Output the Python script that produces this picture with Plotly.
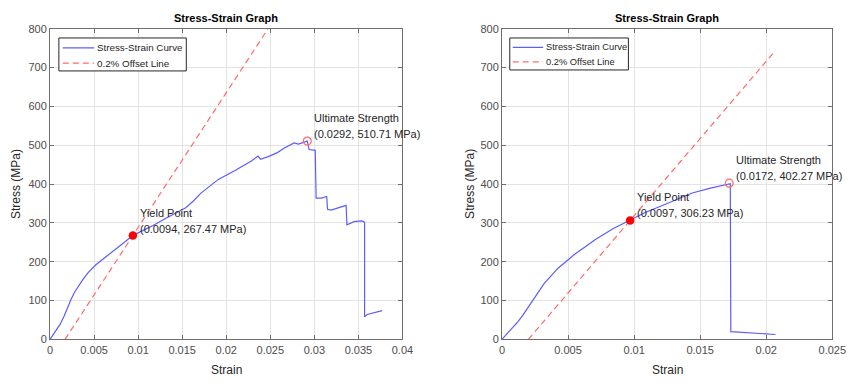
import plotly.graph_objects as go

# ---------------- data ----------------
# Left specimen
strain_a = [0, 0.0005, 0.00115, 0.0016, 0.0019, 0.0024, 0.0028, 0.0032, 0.0037, 0.0043, 0.0048,
            0.0052, 0.0062, 0.0071, 0.0082, 0.0094, 0.0105, 0.0117, 0.013, 0.0143, 0.0154, 0.0163,
            0.0171, 0.0181, 0.0191, 0.021, 0.0229, 0.0236, 0.0239, 0.0249, 0.0258, 0.0266, 0.0273,
            0.0277, 0.0282, 0.0286, 0.0291, 0.0292, 0.0294, 0.0299, 0.0301, 0.0302, 0.0308, 0.0314,
            0.0315, 0.0319, 0.0336, 0.0337, 0.0345, 0.0354, 0.0357, 0.0357, 0.036, 0.0377]
stress_a = [0, 18, 39, 60, 77, 104, 122, 137, 153, 171, 183,
            192, 210, 226, 246, 267.47, 280, 293, 310, 326, 339, 357,
            376, 394, 412, 435, 460, 472, 464, 472, 481, 493, 502,
            506, 503, 506, 509, 510.71, 489, 487, 487, 364, 364, 368,
            335, 333, 345, 295, 303, 305, 302, 58, 64, 74]
offset_x_a = [0.0017, 0.0377]
offset_y_a = [0, 1250]
yield_a = (0.0094, 267.47)
ult_a = (0.0292, 510.71)

# Right specimen
strain_b = [0, 0.0004, 0.0008, 0.0012, 0.0016, 0.002, 0.0024, 0.0028, 0.0032, 0.0037, 0.0042,
            0.0049, 0.0055, 0.0062, 0.0071, 0.0084, 0.0097, 0.0108, 0.012, 0.0132, 0.0144,
            0.0157, 0.0165, 0.0172, 0.01728, 0.01732, 0.0207]
stress_b = [0, 15, 30, 45, 63, 83, 105, 126, 144, 163, 182,
            202, 219, 236, 258, 285, 306.23, 326, 343, 360, 377,
            389, 396, 402.27, 401, 20, 12.5]
offset_x_b = [0.002, 0.0207]
offset_y_b = [0, 744]
yield_b = (0.0097, 306.23)
ult_b = (0.0172, 402.27)

xticks_a = [0, 0.005, 0.01, 0.015, 0.02, 0.025, 0.03, 0.035, 0.04]
xlabels_a = ["0", "0.005", "0.01", "0.015", "0.02", "0.025", "0.03", "0.035", "0.04"]
xticks_b = [0, 0.005, 0.01, 0.015, 0.02, 0.025]
xlabels_b = ["0", "0.005", "0.01", "0.015", "0.02", "0.025"]
yticks = [0, 100, 200, 300, 400, 500, 600, 700, 800]
legend_labels = ["Stress-Strain Curve", "0.2% Offset Line"]

# ---------------- figure ----------------
W, H = 861, 387
FONT = "Liberation Sans, Arial, sans-serif"
BLUE = "#5c5cff"
RED = "#ff6a6a"
TXT = "#262626"

fig = go.Figure()


def px_x(p):
    return p / W


def px_y(p):
    return 1 - p / H


def add_panel(xs, ys, ox, oy, yp, up, xa, ya):
    fig.add_trace(go.Scatter(x=xs, y=ys, mode="lines", name=legend_labels[0],
                             line=dict(color=BLUE, width=1.2), xaxis=xa, yaxis=ya,
                             showlegend=False))
    fig.add_trace(go.Scatter(x=ox, y=oy, mode="lines", name=legend_labels[1],
                             line=dict(color=RED, width=1.2, dash="6px,4px"),
                             xaxis=xa, yaxis=ya, showlegend=False))
    fig.add_trace(go.Scatter(x=[yp[0]], y=[yp[1]], mode="markers", showlegend=False,
                             marker=dict(color="#ff0000", size=8.5, line=dict(width=0)),
                             xaxis=xa, yaxis=ya))
    fig.add_trace(go.Scatter(x=[up[0]], y=[up[1]], mode="markers", showlegend=False,
                             marker=dict(color="rgba(0,0,0,0)", size=8,
                                         line=dict(color=RED, width=1.2)),
                             xaxis=xa, yaxis=ya))
    for pt, label in ((yp, "Yield Point"), (up, "Ultimate Strength")):
        lines = [label, f"({pt[0]:.4f}, {pt[1]:.2f} MPa)"]
        for txt, shift in zip(lines, (23, 7)):
            fig.add_annotation(x=pt[0], y=pt[1], xref=xa, yref=ya, text=txt,
                               showarrow=False, xanchor="left", yanchor="middle",
                               xshift=5, yshift=shift,
                               font=dict(family=FONT, size=11, color=TXT))


def add_legend(x0, x1, y0, y1, lx0, lx1, tx, rows, fsize):
    fig.add_shape(type="rect", xref="paper", yref="paper",
                  x0=px_x(x0), x1=px_x(x1), y0=px_y(y1), y1=px_y(y0),
                  line=dict(color="#262626", width=1), fillcolor="white", layer="above")
    styles = [dict(color=BLUE, width=1.2), dict(color=RED, width=1.2, dash="6px,4px")]
    for ry, st, lab in zip(rows, styles, legend_labels):
        fig.add_shape(type="line", xref="paper", yref="paper",
                      x0=px_x(lx0), x1=px_x(lx1), y0=px_y(ry), y1=px_y(ry),
                      line=st, layer="above")
        fig.add_annotation(x=px_x(tx), y=px_y(ry), xref="paper", yref="paper", text=lab,
                           showarrow=False, xanchor="left", yanchor="middle",
                           font=dict(family=FONT, size=fsize, color=TXT))


add_panel(strain_a, stress_a, offset_x_a, offset_y_a, yield_a, ult_a, "x", "y")
add_panel(strain_b, stress_b, offset_x_b, offset_y_b, yield_b, ult_b, "x2", "y2")

ydom = [(H - 344) / H, (H - 23.5) / H]
dom_a = [48 / W, 407.5 / W]
dom_b = [509 / W, 846 / W]

axis_common = dict(showgrid=True, gridcolor="#e3e3e3", gridwidth=1, zeroline=False,
                   showline=True, linecolor="#6e6e6e", linewidth=1, mirror="ticks",
                   ticks="inside", ticklen=4, tickcolor="#6e6e6e",
                   tickfont=dict(family=FONT, size=11, color="#4d4d4d"))

fig.update_layout(
    width=W, height=H,
    margin=dict(l=0, r=0, t=0, b=0),
    paper_bgcolor="white", plot_bgcolor="white",
    font=dict(family=FONT, color=TXT),
    showlegend=False,
    xaxis=dict(domain=dom_a, range=[0, 0.04], tickvals=xticks_a, ticktext=xlabels_a,
               anchor="y", **axis_common),
    yaxis=dict(domain=ydom, range=[0, 800], tickvals=yticks, anchor="x", **axis_common),
    xaxis2=dict(domain=dom_b, range=[0, 0.025], tickvals=xticks_b, ticktext=xlabels_b,
                anchor="y2", **axis_common),
    yaxis2=dict(domain=ydom, range=[0, 800], tickvals=yticks, anchor="x2", **axis_common),
)

add_legend(57, 187, 33, 67, 61, 93, 94, (43.3, 59), 9.8)
add_legend(517, 638, 33, 66, 520, 551, 552, (42.7, 57.7), 9.3)

# titles and axis labels
for cx in ((48 + 407.5) / 2, (509 + 846) / 2):
    fig.add_annotation(x=px_x(cx), y=px_y(12), xref="paper", yref="paper",
                       xanchor="center", yanchor="middle",
                       text="<b>Stress-Strain Graph</b>", showarrow=False,
                       font=dict(family=FONT, size=11, color="#000000"))
    fig.add_annotation(x=px_x(cx), y=px_y(376), xref="paper", yref="paper",
                       xanchor="center", yanchor="middle",
                       text="Strain", showarrow=False,
                       font=dict(family=FONT, size=12, color=TXT))
for lx in (14, 477):
    fig.add_annotation(x=px_x(lx), y=px_y(184), xref="paper", yref="paper",
                       xanchor="center", yanchor="middle",
                       text="Stress (MPa)", showarrow=False, textangle=-90,
                       font=dict(family=FONT, size=12, color=TXT))

fig.write_html("out.html")
